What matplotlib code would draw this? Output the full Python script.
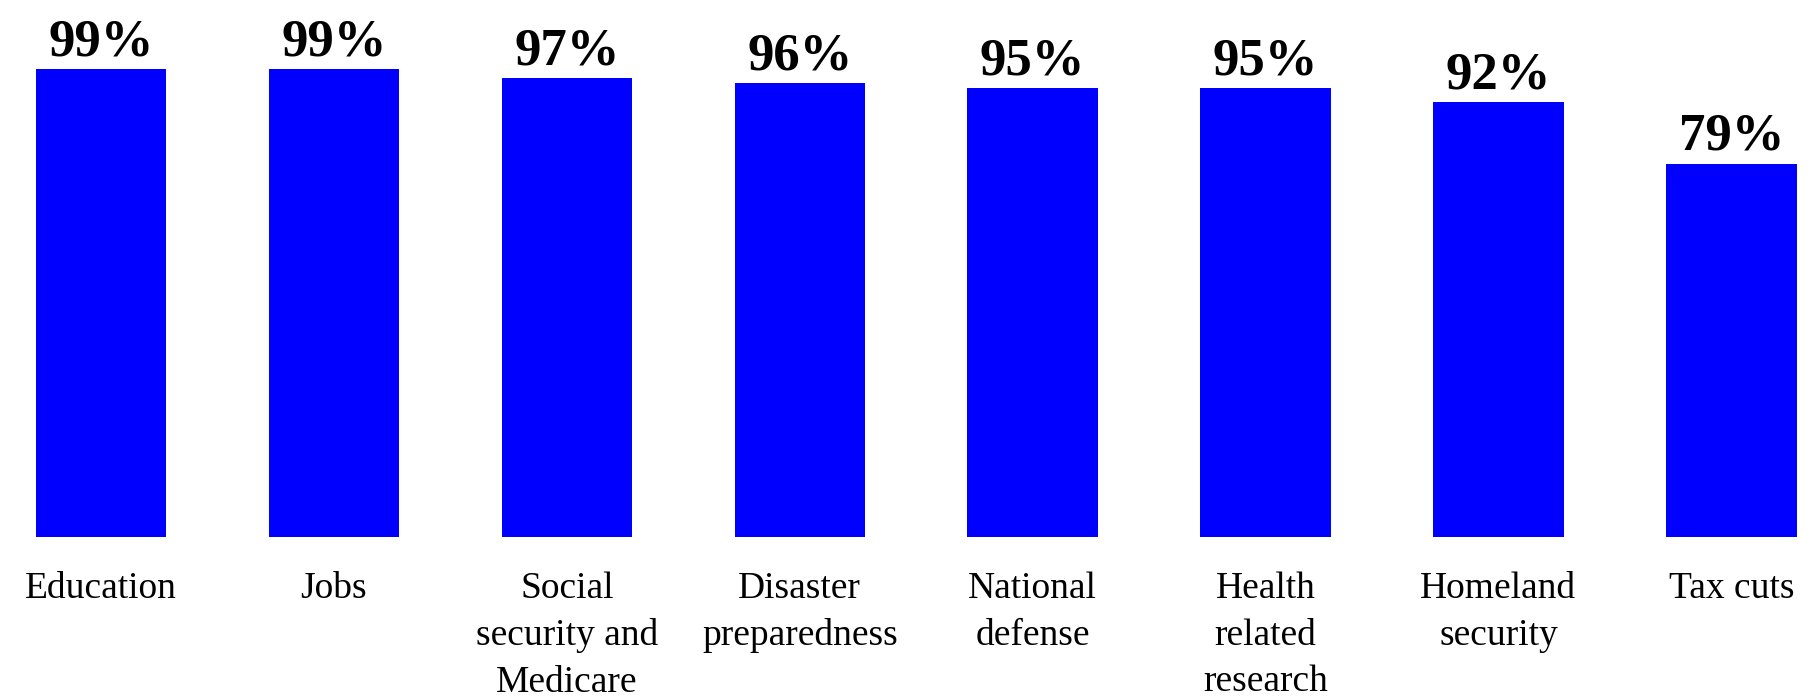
import matplotlib
matplotlib.use("Agg")
import matplotlib.pyplot as plt

plt.rcParams.update({
    "font.family": ["Liberation Serif", "DejaVu Serif"],
})

categories = ["Education", "Jobs", "Social\nsecurity and\nMedicare", "Disaster\npreparedness",
              "National\ndefense", "Health\nrelated\nresearch", "Homeland\nsecurity", "Tax cuts"]
values = [99, 99, 97, 96, 95, 95, 92, 79]

fig = plt.figure(figsize=(18.14, 6.98), dpi=100)
ax = fig.add_axes([0, 1 - 537 / 698, 1, 537 / 698])

x = range(len(values))
bars = ax.bar(x, values, width=0.56, color="#0000FF")
for b, v in zip(bars, values):
    ax.annotate(f"{v}%", (b.get_x() + b.get_width() / 2, v), xytext=(0, 2),
                textcoords="offset points", ha="center", va="bottom",
                fontsize=38, fontweight="bold")

ax.set_xlim(-0.434, 7.355)
ax.set_ylim(0, 113.6)
ax.set_xticks(list(x))
ax.set_xticklabels(categories, fontsize=27, linespacing=1.45)
ax.tick_params(axis="x", length=0, pad=25)
ax.set_yticks([])
for s in ax.spines.values():
    s.set_visible(False)

fig.savefig("out.png", dpi=100)
